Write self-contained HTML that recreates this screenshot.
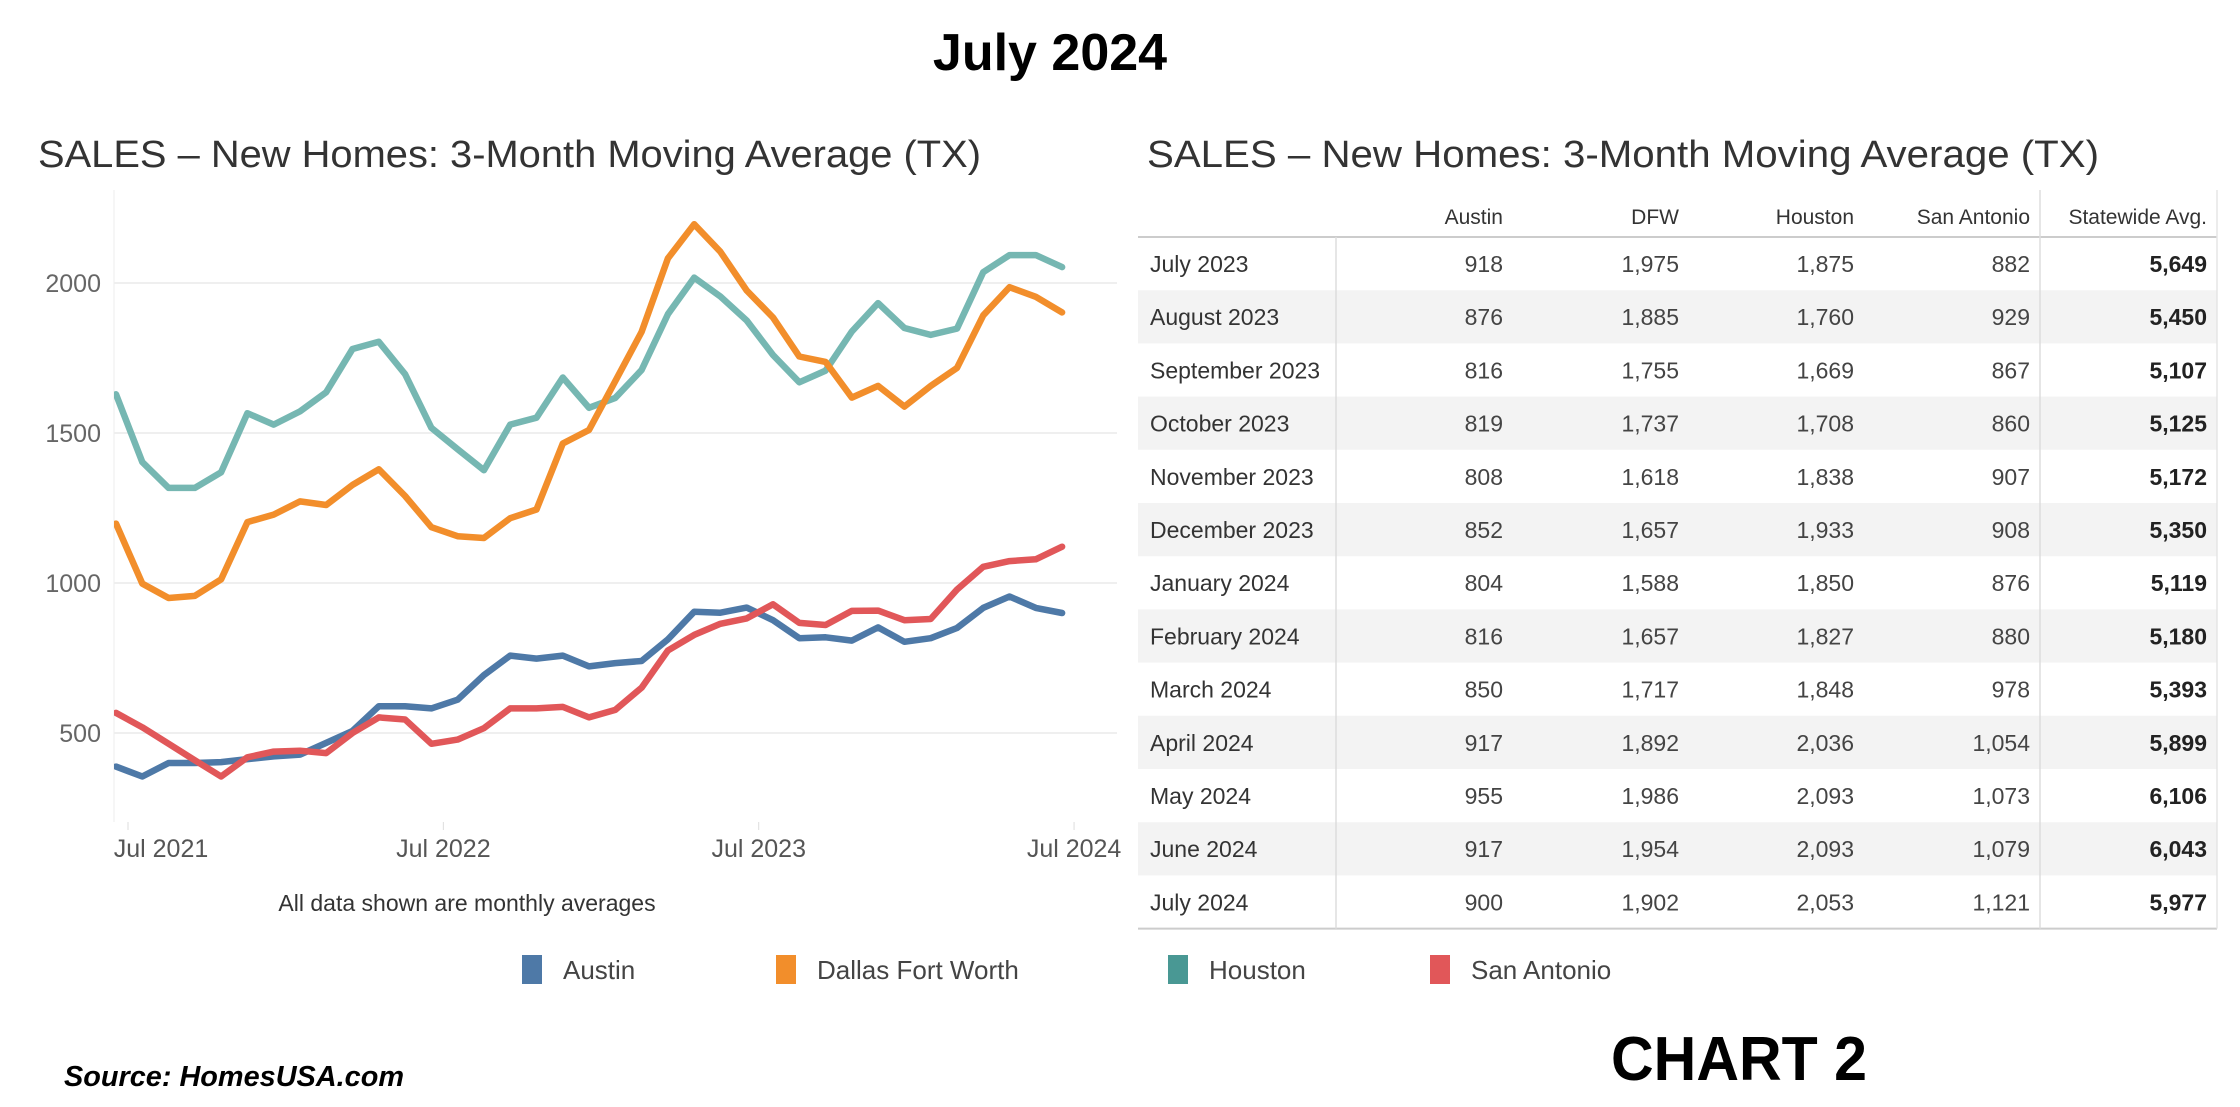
<!DOCTYPE html>
<html><head><meta charset="utf-8"><style>
html,body{margin:0;padding:0;background:#fff;}
svg{display:block;font-family:"Liberation Sans",sans-serif;}
</style></head><body>
<svg id="root" width="2240" height="1107" viewBox="0 0 2240 1107" xmlns="http://www.w3.org/2000/svg">
<text x="1050" y="70" text-anchor="middle" font-size="52" font-weight="bold" fill="#000">July 2024</text>
<text x="38" y="167" font-size="38" fill="#333" textLength="943" lengthAdjust="spacingAndGlyphs">SALES – New Homes: 3-Month Moving Average (TX)</text>
<text x="1147" y="167" font-size="38" fill="#333" textLength="952" lengthAdjust="spacingAndGlyphs">SALES – New Homes:  3-Month Moving Average (TX)</text>
<g id="chart"></g>
<g id="table"></g>
<g id="legend"></g>
<text x="64" y="1086" font-size="29" font-weight="bold" font-style="italic" fill="#000" textLength="340" lengthAdjust="spacingAndGlyphs">Source: HomesUSA.com</text>
<text x="1611" y="1080" font-size="62" font-weight="bold" fill="#000" textLength="256" lengthAdjust="spacingAndGlyphs">CHART 2</text>
</svg>
<script>
const NS='http://www.w3.org/2000/svg';
const yTicks=[500,1000,1500,2000];
const xTickLabels=['Jul 2021','Jul 2022','Jul 2023','Jul 2024'];
const xTickIndex=[0,12,24,36];
const austin=[388,355,400,400,403,413,422,428,467,507,589,589,582,611,693,758,748,758,722,733,740,812,904,901,918,876,816,819,808,852,804,816,850,917,955,917,900];
const dfw=[1198,998,950,957,1012,1203,1228,1272,1260,1327,1379,1290,1186,1156,1150,1216,1245,1465,1510,1673,1837,2082,2196,2104,1975,1885,1755,1737,1618,1657,1588,1657,1717,1892,1986,1954,1902];
const houston=[1629,1403,1317,1317,1369,1566,1528,1572,1636,1780,1804,1696,1517,1446,1376,1528,1551,1685,1584,1617,1710,1896,2018,1955,1875,1760,1669,1708,1838,1933,1850,1827,1848,2036,2093,2093,2053];
const sanAntonio=[567,519,464,409,355,419,438,441,433,500,552,545,464,478,516,582,582,587,552,577,651,775,827,864,882,929,867,860,907,908,876,880,978,1054,1073,1079,1121];
const seriesNames=['Austin','Dallas Fort Worth','Houston','San Antonio'];
const seriesColors=['#4e79a7','#f28e2b','#76b7b2','#e15759'];
const legendColors=['#4e79a7','#f28e2b','#499894','#e15759'];
const tableMonths=['July 2023','August 2023','September 2023','October 2023','November 2023','December 2023','January 2024','February 2024','March 2024','April 2024','May 2024','June 2024','July 2024'];
const tableHeaders=['Austin','DFW','Houston','San Antonio','Statewide Avg.'];
const colAustin=['918','876','816','819','808','852','804','816','850','917','955','917','900'];
const colDfw=['1,975','1,885','1,755','1,737','1,618','1,657','1,588','1,657','1,717','1,892','1,986','1,954','1,902'];
const colHouston=['1,875','1,760','1,669','1,708','1,838','1,933','1,850','1,827','1,848','2,036','2,093','2,093','2,053'];
const colSA=['882','929','867','860','907','908','876','880','978','1,054','1,073','1,079','1,121'];
const colState=['5,649','5,450','5,107','5,125','5,172','5,350','5,119','5,180','5,393','5,899','6,106','6,043','5,977'];

function mk(tag,attrs,parent,text){const e=document.createElementNS(NS,tag);for(const k in attrs)e.setAttribute(k,attrs[k]);if(text!==undefined)e.textContent=text;parent.appendChild(e);return e;}
const L=114,R=1117,T=190,B=822;
const x=i=>116+i*26.28;
const y=v=>883-v*0.3;

const chart=document.getElementById('chart');
const defs=mk('defs',{},chart);
const cp=mk('clipPath',{id:'plotclip'},defs);
mk('rect',{x:L,y:T,width:R-L,height:B-T},cp);
mk('line',{x1:L,y1:T,x2:L,y2:B,stroke:'#ececec','stroke-width':1},chart);
yTicks.forEach(v=>{
  const g=mk('line',{x1:L,y1:y(v),x2:R,y2:y(v),stroke:'#efefef','stroke-width':2},chart);
  
  
  const t=mk('text',{x:101,y:y(v)+9,'text-anchor':'end','font-size':25,fill:'#666'},chart,String(v));
  
  
});
xTickLabels.forEach((lab,k)=>{
  const cx=x(xTickIndex[k])+12;
  const tk=mk('line',{x1:cx,y1:B,x2:cx,y2:B+8,stroke:'#ddd','stroke-width':1},chart);
  
  
  const tx=Math.max(cx,161);
  const t=mk('text',{x:tx,y:857,'text-anchor':'middle','font-size':25,fill:'#555'},chart,lab);
  
  
});
const series=[austin,dfw,houston,sanAntonio];
const order=[2,1,0,3];
order.forEach(s=>{
  const d=series[s].map((v,i)=>(i?'L':'M')+x(i).toFixed(1)+','+y(v).toFixed(1)).join(' ');
  const p=mk('path',{d:d,fill:'none',stroke:seriesColors[s],'stroke-width':6.5,'stroke-linejoin':'round','stroke-linecap':'round','clip-path':'url(#plotclip)'},chart);
  
  
});
const note=mk('text',{x:467,y:911,'text-anchor':'middle','font-size':23,fill:'#333'},chart,'All data shown are monthly averages');



const legend=document.getElementById('legend');
const legX=[522,776,1168,1430];
seriesNames.forEach((n,i)=>{
  const r=mk('rect',{x:legX[i],y:955,width:20,height:29,fill:legendColors[i]},legend);
  
  
  const t=mk('text',{x:legX[i]+41,y:979,'font-size':26,fill:'#444'},legend,n);
  
  
});

const table=document.getElementById('table');
const TL=1138,TR=2217,HB=237,RH=53.2;
const colRight=[1503,1679,1854,2030,2207];
const cols=[colAustin,colDfw,colHouston,colSA,colState];
tableMonths.forEach((m,i)=>{
  const top=HB+i*RH;
  if(i%2===1){
    const bg=mk('rect',{x:TL,y:top,width:TR-TL,height:RH,fill:'#f3f3f3'},table);
    
    
  }
  const t=mk('text',{x:1150,y:top+35,'font-size':23,fill:'#333'},table,m);
  
  
  cols.forEach((c,j)=>{
    const v=mk('text',{x:colRight[j],y:top+35,'text-anchor':'end','font-size':23,fill:j===4?'#222':'#444','font-weight':j===4?'bold':'normal'},table,c[i]);
    
    
  });
});
tableHeaders.forEach((h,j)=>{
  const t=mk('text',{x:colRight[j],y:224,'text-anchor':'end','font-size':21,fill:'#333'},table,h);
  
  
});
const bottom=HB+13*RH;
mk('line',{x1:TL,y1:HB,x2:TR,y2:HB,stroke:'#ccc','stroke-width':2},table);
mk('line',{x1:TL,y1:bottom,x2:TR,y2:bottom,stroke:'#ccc','stroke-width':2},table);
mk('line',{x1:1336,y1:HB,x2:1336,y2:bottom,stroke:'#ddd','stroke-width':1.5},table);
mk('line',{x1:2040,y1:190,x2:2040,y2:bottom,stroke:'#ddd','stroke-width':1.5},table);
mk('line',{x1:TR,y1:190,x2:TR,y2:bottom,stroke:'#e5e5e5','stroke-width':1.5},table);
</script>
</body></html>
